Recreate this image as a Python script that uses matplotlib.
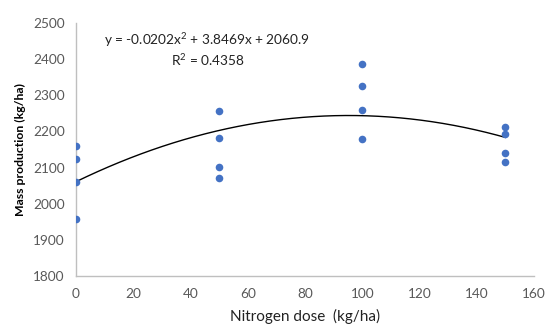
import numpy as np
import matplotlib.pyplot as plt

plt.rcParams['font.family'] = ['Lato', 'DejaVu Sans']
plt.rcParams['mathtext.default'] = 'regular'

# Nitrogen dose (kg/ha) and mass production (kg/ha)
dose = [0, 0, 0, 0, 50, 50, 50, 50, 100, 100, 100, 100, 150, 150, 150, 150]
mass = [2160, 2124, 2059, 1958, 2257, 2181, 2101, 2072,
        2387, 2326, 2260, 2178, 2211, 2192, 2141, 2115]

# trendline coefficients as printed on the chart
coef = [-0.0202, 3.8469, 2060.9]
eq_label = 'y = -0.0202x$^2$ + 3.8469x + 2060.9'
r2_label = 'R$^2$ = 0.4358'

fig = plt.figure(figsize=(5.48, 3.28), dpi=100)
ax = fig.add_axes([76 / 548, 1 - 276 / 328, 458 / 548, 253 / 328])

ax.scatter(dose, mass, s=30, color='#4472C4', zorder=3, linewidths=0)
xs = np.linspace(0, 150, 200)
ax.plot(xs, np.polyval(coef, xs), color='black', lw=1, zorder=2)

ax.set_xlim(0, 160)
ax.set_ylim(1800, 2500)
ax.set_xticks(range(0, 161, 20))
ax.set_yticks(range(1800, 2501, 100))
ax.tick_params(length=0, labelsize=9.8, colors='#595959')
ax.tick_params(axis='y', pad=8)
ax.tick_params(axis='x', pad=9)

for s in ['top', 'right']:
    ax.spines[s].set_visible(False)
for s in ['left', 'bottom']:
    ax.spines[s].set_color('#bfbfbf')
    ax.spines[s].set_linewidth(1)

ax.text(45.8, 2453, eq_label, ha='center', va='center', fontsize=9.8, color='#222222')
ax.text(46, 2398, r2_label, ha='center', va='center', fontsize=9.8, color='#222222')

ax.set_xlabel('Nitrogen dose  (kg/ha)', fontsize=11, color='#222222', labelpad=6)
ax.set_ylabel('Mass production (kg/ha)', fontsize=8.8, fontweight='bold', color='black', labelpad=5)

fig.savefig('out.png', dpi=100)
